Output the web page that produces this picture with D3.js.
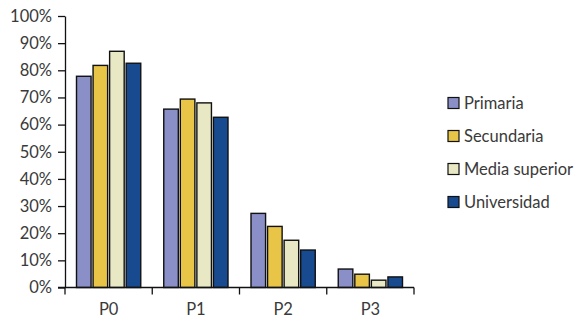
<!DOCTYPE html>
<html><head><meta charset="utf-8">
<script src="https://cdn.jsdelivr.net/npm/d3@7"></script>
<style>body{margin:0;background:#fff}svg{display:block}</style>
</head><body><svg id="c" width="581" height="322"></svg>
<script>
const categories = ["P0","P1","P2","P3"];
const seriesNames = ["Primaria","Secundaria","Media superior","Universidad"];
const primaria = [77.8, 65.7, 27.3, 6.8];
const secundaria = [81.8, 69.4, 22.5, 4.9];
const mediaSuperior = [87.0, 68.0, 17.4, 2.7];
const universidad = [82.6, 62.7, 13.8, 3.9];
const yTicks = [0,10,20,30,40,50,60,70,80,90,100];
const colors = ["#8b8fc7","#e8c547","#e8e8c5","#174a8e"];

const series = [primaria, secundaria, mediaSuperior, universidad];
const svg = d3.select("#c");
const x0 = 65, x1 = 414, yTop = 16, yBot = 287.5;
const x = d3.scaleBand().domain(categories).range([x0, x1]).paddingInner(0).paddingOuter(0);
const xs = d3.scaleBand().domain(seriesNames).range([11.5, x.bandwidth()-11.5]).paddingInner(0.12);
const y = d3.scaleLinear().domain([0,100]).range([yBot, yTop]);
const font = "Lato, 'Noto Sans', sans-serif";
const textCol = "#3a3a3a";
const fs = 16.5;

// bars
categories.forEach((c,i) => {
  const g = svg.append("g").attr("transform", `translate(${x(c)},0)`);
  seriesNames.forEach((s,j) => {
    g.append("rect")
      .attr("x", xs(s)).attr("width", xs.bandwidth())
      .attr("y", y(series[j][i])).attr("height", yBot - y(series[j][i]))
      .attr("fill", colors[j]).attr("stroke", "#111").attr("stroke-width", 1.4);
  });
});

// y axis
const ya = svg.append("g").attr("transform", `translate(${x0},0)`)
  .call(d3.axisLeft(y).tickValues(yTicks).tickFormat(d => d + "%").tickSize(7).tickSizeOuter(0));
ya.select(".domain").attr("stroke", "#111").attr("stroke-width", 1.3);
ya.selectAll(".tick line").attr("stroke", "#111").attr("stroke-width", 1.3);
ya.selectAll(".tick text").attr("x", -13).attr("font-family", font).attr("font-size", fs).attr("fill", textCol);

// x axis
const xa = svg.append("g").attr("transform", `translate(0,${yBot})`)
  .call(d3.axisBottom(x).tickSize(0).tickSizeOuter(0));
xa.select(".domain").remove();
xa.append("line").attr("x1", x0 - 7).attr("x2", x1).attr("stroke", "#111").attr("stroke-width", 1.3);
const bounds = categories.map(c => x(c)).concat([x1]);
xa.selectAll(".bnd").data(bounds).enter().append("line")
  .attr("x1", d => d).attr("x2", d => d).attr("y1", 0).attr("y2", 7)
  .attr("stroke", "#111").attr("stroke-width", 1.3);
xa.selectAll(".tick text").attr("y", 16).attr("dy", "0.71em").attr("font-family", font).attr("font-size", fs).attr("fill", textCol);

// legend
const lg = svg.append("g").attr("transform", "translate(448,97.5)");
seriesNames.forEach((s,j) => {
  const r = lg.append("g").attr("transform", `translate(0,${j*33})`);
  r.append("rect").attr("width", 11).attr("height", 11).attr("fill", colors[j]).attr("stroke", "#111").attr("stroke-width", 1.2);
  r.append("text").attr("x", 16).attr("y", 5.5).attr("dy", "0.35em").attr("font-family", font).attr("font-size", fs).attr("fill", textCol).text(s);
});
</script></body></html>
